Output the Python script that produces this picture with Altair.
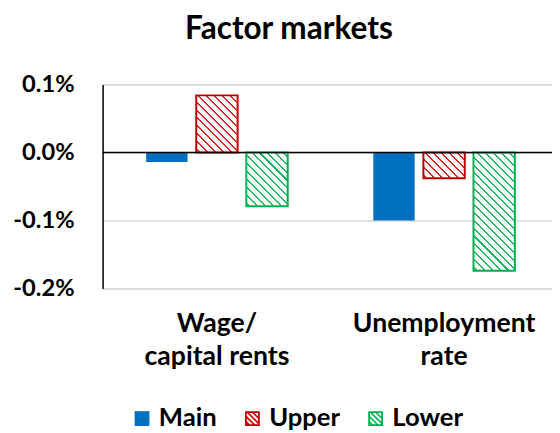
import math
import altair as alt
import pandas as pd

# ---------------- data ----------------
categories = ["Wage/ capital rents", "Unemployment rate"]
category_lines = [["Wage/", "capital rents"], ["Unemployment", "rate"]]
series = ["Main", "Upper", "Lower"]
main_values = [-0.00014, -0.00100]
upper_values = [0.00084, -0.00038]
lower_values = [-0.00079, -0.00174]
y_ticks = [0.001, 0.0, -0.001, -0.002]
title_text = "Factor markets"

# ---------------- style ----------------
FONT = "Lato"
colors = {"Main": "#0070C0", "Upper": "#C00000", "Lower": "#00B050"}
stripe_colors = {"Upper": "#D42A2A", "Lower": "#22BA64"}
W, H = 456, 207
Y_DOMAIN = [-0.002, 0.001]
X_PI, X_PO, X_ALIGN = 0.3384, 0.15836, 0.5445
O_PI, O_PO = 0.174, 0.087

rows = []
for s, vals in zip(series, [main_values, upper_values, lower_values]):
    for c, v in zip(categories, vals):
        rows.append({"category": c, "series": s, "value": v})
df = pd.DataFrame(rows)

# bar pixel size (for hatch density)
step = W / (len(categories) - X_PI + 2 * X_PO)
band = step * (1 - X_PI)
ostep = band / (len(series) - O_PI + 2 * O_PO)
bar_w = ostep * (1 - O_PI)
px_per_unit = H / (Y_DOMAIN[1] - Y_DOMAIN[0])


def hatch_gradient(w, h, color, period=8.0, thick=2.1):
    """Diagonal '\\' stripes as a hard-stop linear gradient (bbox units)."""
    h = max(h, 1.0)
    k = (w + h) / (w * w + h * h)
    total = w + h
    dt = period / total
    th = thick / total
    stops = [{"offset": 0, "color": "white"}]
    t = dt * 0.35
    while t < 1:
        a = t
        b = min(t + th, 1)
        stops += [
            {"offset": round(a, 5), "color": "white"},
            {"offset": round(a, 5), "color": color},
            {"offset": round(b, 5), "color": color},
            {"offset": round(b, 5), "color": "white"},
        ]
        t += dt
    stops.append({"offset": 1, "color": "white"})
    return {"gradient": "linear", "x1": 0, "y1": 1,
            "x2": round(k * w, 6), "y2": round(1 - k * h, 6), "stops": stops}


def clip(poly, f):
    out = []
    n = len(poly)
    for i in range(n):
        p, q = poly[i], poly[(i + 1) % n]
        fp, fq = f(p), f(q)
        if fp >= 0:
            out.append(p)
        if (fp >= 0) != (fq >= 0):
            t = fp / (fp - fq)
            out.append((p[0] + t * (q[0] - p[0]), p[1] + t * (q[1] - p[1])))
    return out


def hatch_symbol(frame=0.24, period=0.72, width=0.3):
    a = 1 - frame
    fmt = lambda p: f"{p[0]:.3f},{p[1]:.3f}"
    parts = ["M-1,-1L1,-1L1,1L-1,1Z",
             f"M{-a},{-a}L{-a},{a}L{a},{a}L{a},{-a}Z"]
    sq = [(-a, -a), (a, -a), (a, a), (-a, a)]
    c = -2 * a + 0.1
    while c < 2 * a:
        c0, c1 = c, c + width
        poly = clip(sq, lambda p, c0=c0: (p[0] - p[1]) - c0)
        poly = clip(poly, lambda p, c1=c1: c1 - (p[0] - p[1]))
        if len(poly) >= 3:
            parts.append("M" + "L".join(fmt(p) for p in poly) + "Z")
        c += period
    return "".join(parts)


label_expr = ""
for cat, lines in zip(categories, category_lines):
    arr = "[" + ",".join(f"'{l}'" for l in lines) + "]"
    label_expr += f"datum.value == '{cat}' ? {arr} : "
label_expr += "datum.label"

x_enc = alt.X(
    "category:N",
    scale=alt.Scale(domain=categories, paddingInner=X_PI, paddingOuter=X_PO,
                    align=X_ALIGN),
    axis=alt.Axis(title=None, labelExpr=label_expr, labelAngle=0, domain=False,
                  ticks=False, grid=False, labelPadding=23, labelFont=FONT,
                  labelFontSize=27, labelFontWeight="bold", labelColor="black",
                  labelLineHeight=33, labelLimit=400),
)
xo_enc = alt.XOffset("series:N",
                     scale=alt.Scale(domain=series, paddingInner=O_PI, paddingOuter=O_PO))
y_enc = alt.Y(
    "value:Q",
    scale=alt.Scale(domain=Y_DOMAIN, nice=False),
    axis=alt.Axis(title=None, values=y_ticks, format=".1%",
                  labelExpr="replace(datum.label, '\u2212', '-')",
                  grid=True, gridColor="#D9D9D9", gridWidth=1.5, ticks=False,
                  domain=True, domainColor="black", domainWidth=1.5,
                  labelPadding=29, labelFont=FONT, labelFontSize=24,
                  labelFontWeight="bold", labelColor="black"),
)

legend = alt.Legend(
    title=None, orient="none", legendX=27, legendY=326, direction="horizontal",
    symbolSize=225, symbolStrokeWidth=0, symbolOpacity=1, labelFont=FONT,
    labelFontSize=26, labelFontWeight="bold", labelColor="black",
    labelOffset=4, columnPadding=23,
)

base = alt.Chart(df)

legend_layer = base.mark_point(filled=True, opacity=0).encode(
    x=x_enc, xOffset=xo_enc, y=y_enc,
    color=alt.Color("series:N", scale=alt.Scale(domain=series,
                    range=[colors[s] for s in series]), legend=legend),
    shape=alt.Shape("series:N", scale=alt.Scale(domain=series,
                    range=["square", hatch_symbol(), hatch_symbol()]), legend=legend),
)

layers = [legend_layer]
layers.append(
    base.transform_filter(alt.datum.series == "Main")
    .mark_bar(fill=colors["Main"])
    .encode(x=x_enc, xOffset=xo_enc, y=y_enc)
)

for s, vals in [("Upper", upper_values), ("Lower", lower_values)]:
    for c, v in zip(categories, vals):
        grad = hatch_gradient(bar_w, abs(v) * px_per_unit, stripe_colors[s])
        layers.append(
            base.transform_filter((alt.datum.series == s) & (alt.datum.category == c))
            .mark_bar(fill=grad, stroke=colors[s], strokeWidth=2)
            .encode(x=x_enc, xOffset=xo_enc, y=y_enc)
        )

layers.append(
    alt.Chart(pd.DataFrame({"z": [0]}))
    .mark_rule(color="black", strokeWidth=1.5)
    .encode(y=alt.datum(0))
)

chart = alt.layer(*layers).properties(
    width=W, height=H,
    title=alt.TitleParams(title_text, font=FONT, fontSize=32, fontWeight="bold",
                          color="black", anchor="middle", frame="group", dx=-39,
                          offset=27),
    padding={"left": 96, "top": 74.5, "right": 0, "bottom": 143.5},
    autosize=alt.AutoSizeParams(type="none"),
).configure_view(stroke=None).configure(font=FONT)

chart.save("out.html", embed_options={"renderer": "svg", "actions": False})
